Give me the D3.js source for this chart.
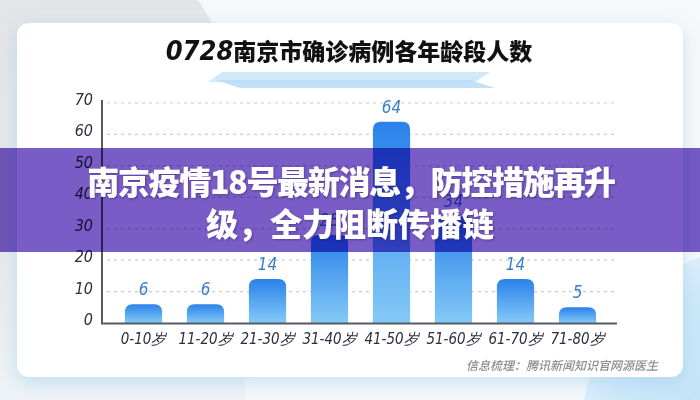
<!DOCTYPE html>
<html><head><meta charset="utf-8">
<script src="https://cdn.jsdelivr.net/npm/d3@7/dist/d3.min.js"></script>
<style>
html,body{margin:0;padding:0;background:#f6f8fa;}
svg{display:block;}
</style></head>
<body>
<svg id="c" width="700" height="400"></svg>
<script>
const title = "0728南京市确诊病例各年龄段人数";
const categories = ["0-10岁","11-20岁","21-30岁","31-40岁","41-50岁","51-60岁","61-70岁","71-80岁"];
const values = [6, 6, 14, 28, 64, 34, 14, 5];
const yTicks = [0, 10, 20, 30, 40, 50, 60, 70];
const bannerLines = ["南京疫情18号最新消息，防控措施再升", "级，全力阻断传播链"];
const source = "信息梳理：腾讯新闻知识官网源医生";

const svg = d3.select("#c");
const defs = svg.append("defs");

const bg = defs.append("linearGradient").attr("id","barGrad").attr("x1",0).attr("y1",0).attr("x2",0).attr("y2",1);
bg.append("stop").attr("offset","0%").attr("stop-color","#2a82ea");
bg.append("stop").attr("offset","100%").attr("stop-color","#84c9f6");

const lg = defs.append("linearGradient").attr("id","leftGrad").attr("x1",0).attr("y1",0).attr("x2",0).attr("y2",1);
lg.append("stop").attr("offset","0%").attr("stop-color","#e3e4e6");
lg.append("stop").attr("offset","60%").attr("stop-color","#e6e8ea");
lg.append("stop").attr("offset","100%").attr("stop-color","#eef3f7");

const rg = defs.append("radialGradient").attr("id","circGrad");
rg.append("stop").attr("offset","0%").attr("stop-color","#b9dff7");
rg.append("stop").attr("offset","85%").attr("stop-color","#cde8f9");
rg.append("stop").attr("offset","100%").attr("stop-color","#dcedf9");

const sh = defs.append("filter").attr("id","cardShadow").attr("x","-10%").attr("y","-10%").attr("width","120%").attr("height","130%");
sh.append("feDropShadow").attr("dx",0).attr("dy",6).attr("stdDeviation",9).attr("flood-color","#9fcdee").attr("flood-opacity",0.55);

const ts = defs.append("filter").attr("id","txtShadow").attr("x","-5%").attr("y","-20%").attr("width","110%").attr("height","140%");
ts.append("feDropShadow").attr("dx",1).attr("dy",1).attr("stdDeviation",1).attr("flood-color","#2a1a60").attr("flood-opacity",0.5);

svg.append("rect").attr("width",700).attr("height",400).attr("fill","#f6f8fa");
svg.append("path").attr("d","M0,0 L198,0 L245,75 L245,400 L0,400 Z").attr("fill","url(#leftGrad)");
svg.append("circle").attr("cx",780).attr("cy",440).attr("r",200).attr("fill","url(#circGrad)");

svg.append("rect").attr("x",17).attr("y",23).attr("width",666).attr("height",354).attr("rx",12)
  .attr("fill","#ffffff").attr("filter","url(#cardShadow)");

svg.append("path").attr("d","M222,72 L490,72 L475,82 L208,82 Z").attr("fill","#cde9fb").attr("opacity",0.95);
svg.append("path").attr("d","M215,80 L470,80 L495,88 L240,88 Z").attr("fill","#b7dcf7").attr("opacity",0.85);

const tt = svg.append("text").attr("x",349).attr("y",60).attr("text-anchor","middle")
  .attr("font-family","'Noto Sans CJK SC', sans-serif").attr("font-weight",900)
  .attr("font-size",23).attr("fill","#111");
tt.append("tspan").attr("font-style","italic").attr("font-weight",700).attr("font-family","'Liberation Sans Narrow','DejaVu Sans Condensed',sans-serif").attr("font-size",27).text(title.slice(0,4));
tt.append("tspan").text(title.slice(4));

const x = d3.scaleBand().domain(categories).range([106.3, 614.7]).paddingInner(0.4).paddingOuter(0.3);
const y = d3.scaleLinear().domain([0,70]).range([323,103]);

svg.append("g").selectAll("line").data(yTicks.filter(d=>d>0)).join("line")
  .attr("x1",107).attr("x2",617).attr("y1",d=>y(d)).attr("y2",d=>y(d))
  .attr("stroke","#c9ccd2").attr("stroke-width",1.2).attr("stroke-dasharray","3,4");

const fontNum = "'Liberation Sans Narrow','DejaVu Sans Condensed',sans-serif";
svg.append("g").selectAll("text").data(yTicks).join("text")
  .attr("x",93).attr("y",d=>y(d)+2).attr("text-anchor","end")
  .attr("font-family",fontNum).attr("font-style","italic").attr("font-size",16)
  .attr("fill","#2c2f40").text(d=>d);

const r = 8;
function barPath(d){
  const x0 = x(d.c), w = x.bandwidth(), y0 = y(d.v), y1 = y(0);
  const rr = Math.min(r, (y1-y0));
  return `M${x0},${y1} L${x0},${y0+rr} Q${x0},${y0} ${x0+rr},${y0} L${x0+w-rr},${y0} Q${x0+w},${y0} ${x0+w},${y0+rr} L${x0+w},${y1} Z`;
}
const data = categories.map((c,i)=>({c, v: values[i]}));
svg.append("g").selectAll("path").data(data).join("path")
  .attr("d",barPath).attr("fill","url(#barGrad)");

svg.append("g").selectAll("text").data(data).join("text")
  .attr("x",d=>x(d.c)+x.bandwidth()/2).attr("y",d=>y(d.v)-9).attr("text-anchor","middle")
  .attr("font-family",fontNum).attr("font-style","italic").attr("font-size",17)
  .attr("fill","#3b80c6").text(d=>d.v);

svg.append("line").attr("x1",102).attr("x2",102).attr("y1",100).attr("y2",324).attr("stroke","#555a66").attr("stroke-width",2);
svg.append("line").attr("x1",101).attr("x2",617).attr("y1",323.5).attr("y2",323.5).attr("stroke","#555a66").attr("stroke-width",2);

svg.append("g").selectAll("text").data(categories).join("text")
  .attr("x",d=>x(d)+x.bandwidth()/2).attr("y",344).attr("text-anchor","middle")
  .attr("font-family",fontNum).attr("font-style","italic").attr("font-size",15)
  .attr("fill","#2c2f40").text(d=>d);

svg.append("text").attr("x",658).attr("y",370).attr("text-anchor","end")
  .attr("font-family","'Noto Sans CJK SC', sans-serif").attr("font-style","italic").attr("font-weight",500)
  .attr("font-size",12).attr("fill","#8c8c90").text(source);

svg.append("rect").attr("x",0).attr("y",148).attr("width",700).attr("height",104)
  .attr("fill","#7a5cc6").style("mix-blend-mode","multiply");
svg.append("g").selectAll("text").data(bannerLines).join("text")
  .attr("x",(d,i)=> i===0 ? 351 : 350).attr("y",(d,i)=>194+i*42).attr("text-anchor","middle")
  .attr("font-family","'Noto Sans CJK SC', sans-serif").attr("font-weight",900)
  .attr("font-size",32).attr("fill","#ffffff").attr("filter","url(#txtShadow)")
  .attr("letter-spacing",(d,i)=> i===0 ? -1.3 : 0)
  .text(d=>d);
</script>
</body></html>
